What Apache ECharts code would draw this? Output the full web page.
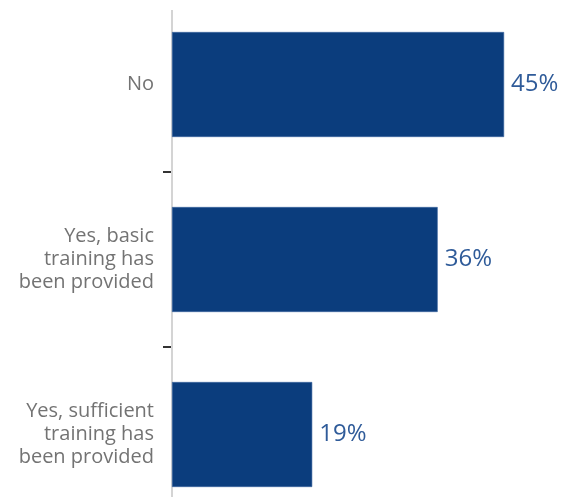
<!DOCTYPE html>
<html>
<head>
<meta charset="utf-8">
<script src="https://cdn.jsdelivr.net/npm/echarts@6/dist/echarts.min.js"></script>
<style>
  html, body { margin: 0; padding: 0; background: #fff; overflow: hidden; }
  body { width: 571px; height: 497px; position: relative; }
  /* the plot runs a little past the top and bottom edges of the page */
  #chart { position: absolute; left: 0; top: -3px; width: 571px; height: 525px; }
</style>
</head>
<body>
<div id="chart"></div>
<script>
// Survey answers, top to bottom
const categories = [
  'No',
  'Yes, basic\ntraining has\nbeen provided',
  'Yes, sufficient\ntraining has\nbeen provided'
];
// Share of respondents (%)
const shares = [45, 36, 19];

const chart = echarts.init(document.getElementById('chart'), null, { renderer: 'canvas' });

const gridLeft = 172;

chart.setOption({
  animation: false,
  backgroundColor: '#ffffff',
  grid: { left: gridLeft, right: 30, top: 0, bottom: 0, containLabel: false },
  xAxis: {
    type: 'value',
    min: 0,
    max: 50,
    show: false
  },
  yAxis: {
    type: 'category',
    data: categories,
    inverse: true,
    axisLine: { show: false },
    axisTick: {
      show: true,
      length: 9,
      lineStyle: { color: '#333333', width: 2 }
    },
    axisLabel: {
      margin: 18,
      color: '#737373',
      fontFamily: 'Open Sans',
      fontSize: 20,
      lineHeight: 23,
      align: 'right'
    },
    splitLine: { show: false }
  },
  series: [{
    type: 'bar',
    data: shares,
    barCategoryGap: '40%',
    itemStyle: { color: '#0b3d7d', borderColor: '#3a64a0', borderWidth: 0.6 },
    label: {
      show: true,
      position: 'right',
      distance: 7,
      color: '#2f5b99',
      fontFamily: 'Open Sans',
      fontSize: 24,
      formatter: p => p.value + '%'
    },
    z: 3
  }],
  graphic: [{
    type: 'line',
    shape: { x1: gridLeft, y1: 13, x2: gridLeft, y2: 525 },
    style: { stroke: '#d4d4d4', lineWidth: 2 },
    z: 1
  }]
});
</script>
</body>
</html>
